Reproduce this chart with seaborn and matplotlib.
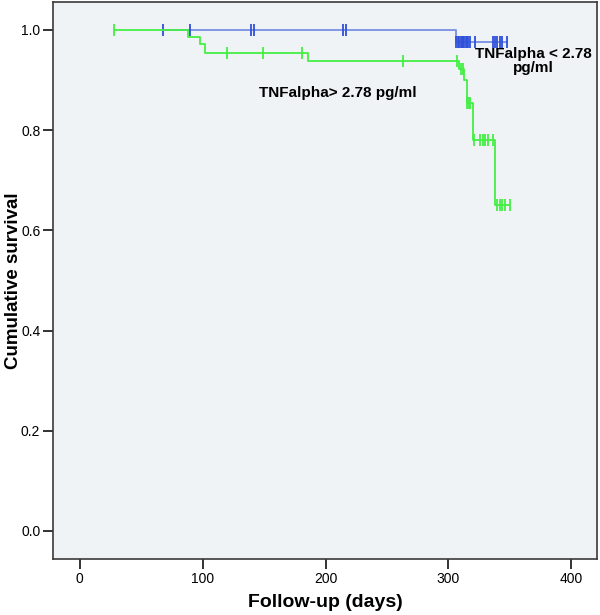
import numpy as np
import pandas as pd
import matplotlib
matplotlib.use("Agg")
import matplotlib.pyplot as plt
import seaborn as sns

# Kaplan-Meier steps (days, cumulative survival)
high_times = [28, 88, 98, 102, 186, 309, 313, 315, 320, 338, 350]
high_surv = [1.0, 0.986, 0.972, 0.954, 0.938, 0.922, 0.90, 0.855, 0.78, 0.65, 0.65]
high_censored = [28, 120, 149, 181, 263, 307, 310, 312, 315.5, 316.5, 317.5,
                 321, 326, 328, 330, 332, 336, 340, 342, 344, 346, 350]

low_times = [68, 306, 348]
low_surv = [1.0, 0.976, 0.976]
low_censored = [68, 90, 139, 142, 214, 217, 306, 308, 309, 310, 311, 312, 313,
                314, 315, 316, 318, 322, 336, 338, 340, 342, 344, 348]

x_ticks = [0, 100, 200, 300, 400]
y_ticks = [0.0, 0.2, 0.4, 0.6, 0.8, 1.0]

label_high = "TNFalpha> 2.78 pg/ml"
label_low = "TNFalpha < 2.78\npg/ml"

green = "#44EE44"
blue_line = "#8097E6"
blue_mark = "#2F50DA"


def step_value(times, surv, t):
    idx = np.searchsorted(times, t, side="right") - 1
    return np.array(surv)[np.clip(idx, 0, len(surv) - 1)]


high_df = pd.DataFrame({"days": high_times, "surv": high_surv})
low_df = pd.DataFrame({"days": low_times, "surv": low_surv})
high_cens = pd.DataFrame({"days": high_censored,
                          "surv": step_value(high_times, high_surv, high_censored)})
low_cens = pd.DataFrame({"days": low_censored,
                         "surv": step_value(low_times, low_surv, low_censored)})

sns.set_style("ticks")
plt.rcParams["font.family"] = ["Liberation Sans", "DejaVu Sans"]
plt.rcParams["text.color"] = "black"
plt.rcParams["axes.labelcolor"] = "black"
plt.rcParams["xtick.labelcolor"] = "black"
plt.rcParams["ytick.labelcolor"] = "black"

fig = plt.figure(figsize=(6.0, 6.15), dpi=100)
ax = fig.add_axes([0.088, 0.091, 0.907, 0.906])
ax.set_facecolor("#F0F3F5")

sns.lineplot(data=low_df, x="days", y="surv", ax=ax, color=blue_line,
             drawstyle="steps-post", linewidth=1.4, zorder=2)
sns.scatterplot(data=low_cens, x="days", y="surv", ax=ax, marker="|", s=70,
                color=blue_mark, linewidth=1.3, zorder=3)
sns.lineplot(data=high_df, x="days", y="surv", ax=ax, color=green,
             drawstyle="steps-post", linewidth=1.3, zorder=4)
sns.scatterplot(data=high_cens, x="days", y="surv", ax=ax, marker="|", s=70,
                color=green, linewidth=1.3, zorder=5)

ax.text(146, 0.874, label_high, fontsize=11, fontweight="bold",
        ha="left", va="center")
ax.text(369, 0.966, label_low, fontsize=11, fontweight="bold",
        ha="center", va="top", multialignment="center", linespacing=1.0)

ax.set_xlim(-22, 421)
ax.set_ylim(-0.056, 1.056)
ax.set_xticks(x_ticks)
ax.set_yticks(y_ticks)
ax.set_yticklabels([f"{v:.1f}" for v in y_ticks])
ax.tick_params(axis="both", direction="out", length=7, width=1.3,
               color="#222222", labelsize=10, pad=2)
for sp in ax.spines.values():
    sp.set_visible(True)
    sp.set_color("#3A3A3A")
    sp.set_linewidth(1.2)

ax.set_xlabel("Follow-up (days)", fontsize=14, fontweight="bold", labelpad=6)
ax.set_ylabel("Cumulative survival", fontsize=13.5, fontweight="bold")
ax.yaxis.set_label_coords(-0.056, 0.5)

fig.savefig("out.png", dpi=100, facecolor="white")
